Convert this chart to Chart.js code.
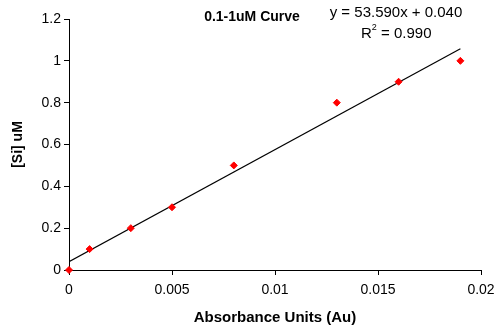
<!DOCTYPE html>
<html>
<head>
<meta charset="utf-8">
<script src="https://cdn.jsdelivr.net/npm/chart.js@4/dist/chart.umd.min.js"></script>
<style>
  html, body { margin: 0; padding: 0; background: #fff; }
  #wrap { width: 496px; height: 327px; }
</style>
</head>
<body>
<div id="wrap"><canvas id="chart" width="496" height="327"></canvas></div>
<script>
// measured points
const absorbance = [0, 0.001, 0.003, 0.005, 0.008, 0.013, 0.016, 0.019];
const siConc = [0, 0.1, 0.2, 0.3, 0.5, 0.8, 0.9, 1.0];

// linear fit shown on chart
const slope = 53.590;
const intercept = 0.040;
const fitX = [0, 0.019];

const xTicks = [0, 0.005, 0.01, 0.015, 0.02];
const yTicks = [0, 0.2, 0.4, 0.6, 0.8, 1, 1.2];

const fontFamily = '"Liberation Sans", Arial, sans-serif';

// title and equation text inside the plot
const labelPlugin = {
  id: 'labels',
  afterDraw(chart) {
    const ctx = chart.ctx;
    ctx.save();
    ctx.fillStyle = '#000';
    ctx.textAlign = 'center';
    ctx.textBaseline = 'middle';
    ctx.font = 'bold 14px ' + fontFamily;
    ctx.fillText('0.1-1uM Curve', 252, 17);
    ctx.font = '15px ' + fontFamily;
    ctx.fillText('y = 53.590x + 0.040', 396, 13);
    ctx.textAlign = 'left';
    ctx.fillText('R', 361, 34);
    const rw = ctx.measureText('R').width;
    ctx.font = '9px ' + fontFamily;
    ctx.fillText('2', 361 + rw, 28);
    const sw = ctx.measureText('2').width;
    ctx.font = '15px ' + fontFamily;
    ctx.fillText(' = 0.990', 361 + rw + sw, 34);
    ctx.restore();
  }
};

const ctx = document.getElementById('chart').getContext('2d');
new Chart(ctx, {
  type: 'scatter',
  data: {
    datasets: [
      {
        label: 'data',
        data: absorbance.map((x, i) => ({ x: x, y: siConc[i] })),
        pointStyle: 'rectRot',
        pointRadius: 3.5,
        backgroundColor: '#ff0000',
        borderColor: '#ff0000',
        borderWidth: 1,
        showLine: false,
        clip: false,
        order: 1
      },
      {
        label: 'fit',
        data: fitX.map(x => ({ x: x, y: slope * x + intercept })),
        showLine: true,
        borderColor: '#000',
        borderWidth: 1.2,
        pointRadius: 0,
        fill: false,
        order: 2
      }
    ]
  },
  options: {
    responsive: false,
    animation: false,
    layout: { padding: { top: 19, right: 15, left: 10, bottom: 0 } },
    plugins: {
      legend: { display: false },
      tooltip: { enabled: false }
    },
    scales: {
      x: {
        type: 'linear',
        min: 0,
        max: 0.02,
        afterBuildTicks: axis => { axis.ticks = xTicks.map(v => ({ value: v })); },
        afterFit: axis => {
          axis.height = 57;
          axis.paddingLeft = 0;
          axis.paddingRight = 0;
        },
        border: { color: '#000', width: 1 },
        grid: { drawOnChartArea: false, color: '#000', tickLength: 5 },
        ticks: {
          color: '#000',
          padding: 7,
          maxRotation: 0,
          font: { family: fontFamily, size: 14 },
          callback: v => String(v)
        },
        title: {
          display: true,
          text: 'Absorbance Units (Au)',
          color: '#000',
          padding: { top: 3, bottom: 0 },
          font: { family: fontFamily, size: 15, weight: 'bold' }
        }
      },
      y: {
        type: 'linear',
        min: 0,
        max: 1.2,
        afterBuildTicks: axis => { axis.ticks = yTicks.map(v => ({ value: v })); },
        afterFit: axis => {
          axis.width = 59;
          axis.paddingTop = 0;
          axis.paddingBottom = 0;
        },
        border: { color: '#000', width: 1 },
        grid: { drawOnChartArea: false, color: '#000', tickLength: 5 },
        ticks: {
          color: '#000',
          padding: 3,
          font: { family: fontFamily, size: 14 },
          callback: v => String(v)
        },
        title: {
          display: true,
          text: '[Si] uM',
          color: '#000',
          padding: { top: 0, bottom: 6 },
          font: { family: fontFamily, size: 14, weight: 'bold' }
        }
      }
    }
  },
  plugins: [labelPlugin]
});
</script>
</body>
</html>
